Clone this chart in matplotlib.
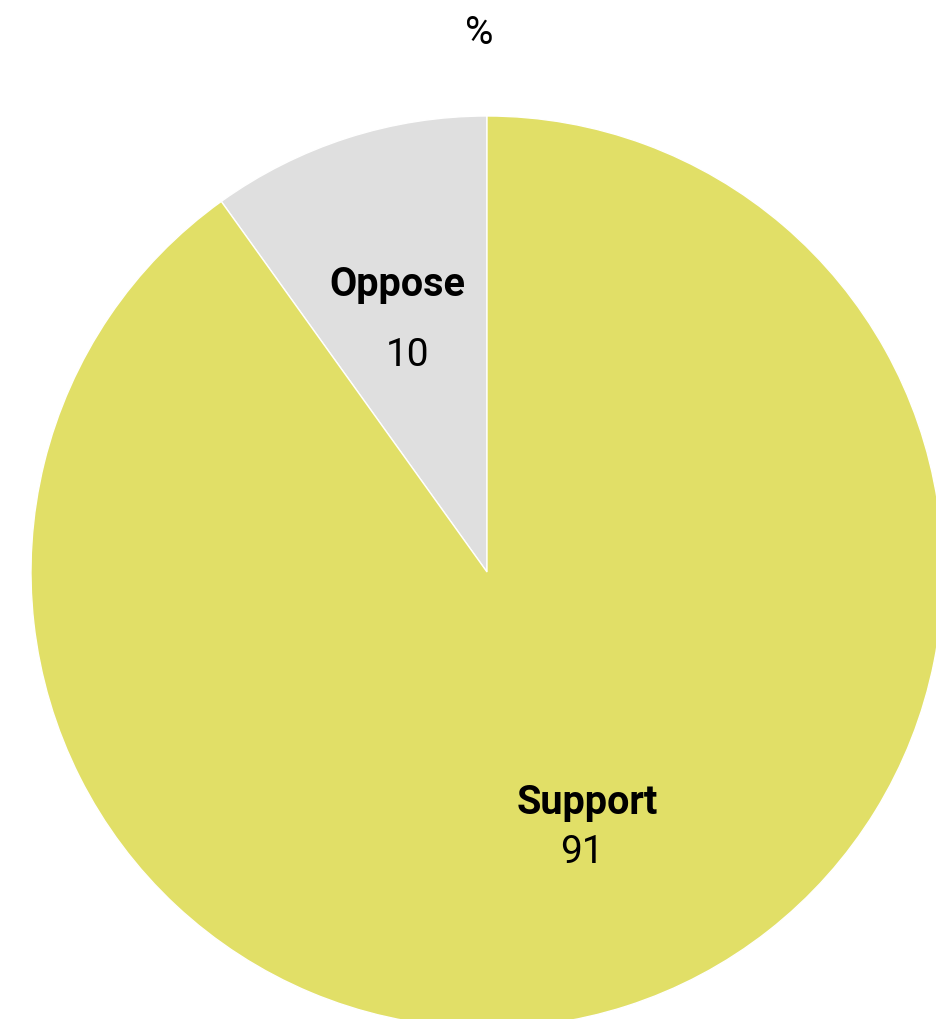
import matplotlib
matplotlib.use("Agg")
from matplotlib import pyplot as plt

labels = ["Oppose", "Support"]
values = [10, 91]
colors = ["#dfdfdf", "#e1df67"]
# label positions in pie coords (radius 1)
name_pos = [(-0.197, 0.632), (0.219, -0.504)]
value_pos = [(-0.175, 0.478), (0.208, -0.612)]

plt.rcParams['font.family'] = ['Roboto', 'DejaVu Sans']

W, H = 937, 1020
cx, cy, r = 487, 573, 456
fig = plt.figure(figsize=(W/100, H/100), dpi=100)
ax = fig.add_axes([(cx-r)/W, (H-cy-r)/H, 2*r/W, 2*r/H])
ax.pie(values, colors=colors, startangle=90, counterclock=True,
       wedgeprops=dict(edgecolor='white', linewidth=1))
ax.set_xlim(-1, 1)
ax.set_ylim(-1, 1)
ax.set_aspect('equal')
ax.axis('off')

for lab, val, p1, p2 in zip(labels, values, name_pos, value_pos):
    ax.text(p1[0], p1[1], lab, ha='center', va='center', fontsize=28.5,
            fontweight='bold', color='black')
    ax.text(p2[0], p2[1], str(val), ha='center', va='center', fontsize=28,
            color='black')

fig.text(479/W, 1-33/H, "%", ha='center', va='center', fontsize=28)

fig.savefig("out.png", dpi=100)
